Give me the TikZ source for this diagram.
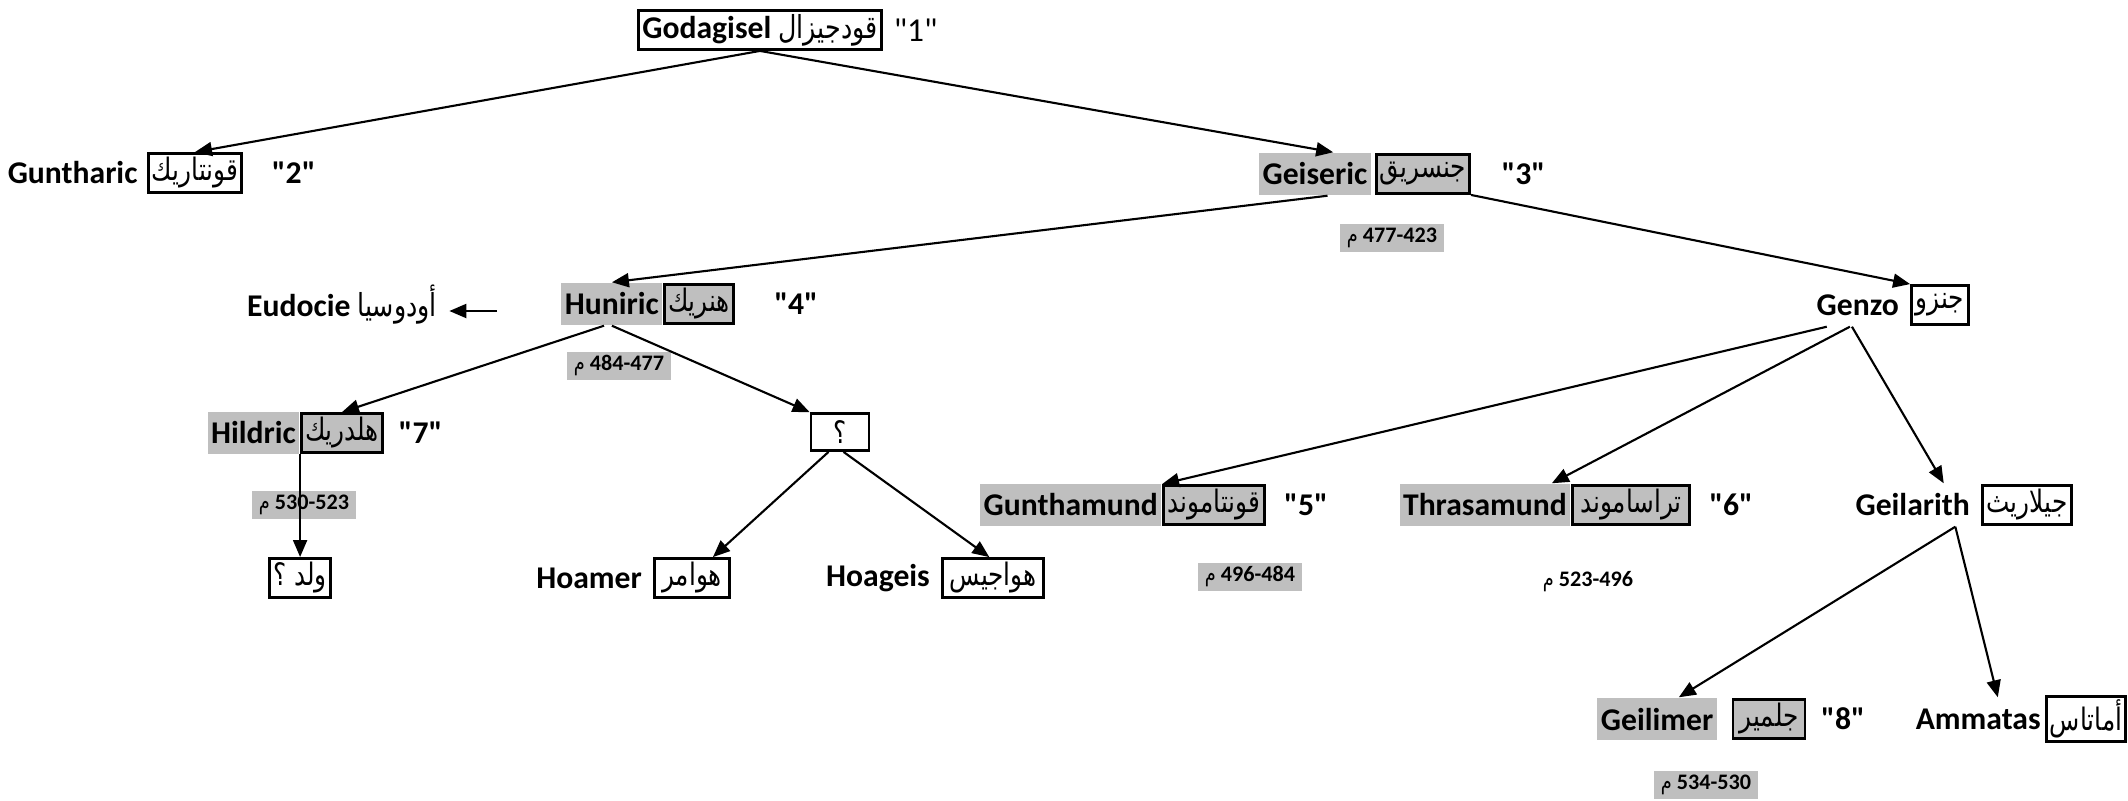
\documentclass[tikz,border=0pt]{standalone}
\usepackage{fontspec}
\setmainfont{Carlito}[Ligatures=TeXOff]
\newfontfamily\arabicfont[Script=Arabic, FakeStretch=0.8]{DejaVu Sans}
\TeXXeTstate=1
\usepackage{xcolor}
\usepackage{tikz}
\usetikzlibrary{arrows.meta,positioning}

\newcommand{\artxt}[1]{{\arabicfont\mdseries\beginR #1\endR}}

\begin{document}
\begin{tikzpicture}[x=0.01cm, y=-0.01cm,
    every node/.style={font=\bfseries\fontsize{9}{11}\selectfont},
    latin/.style={inner xsep=1pt, inner ysep=0pt, minimum height=0.42cm},
    latgrey/.style={latin, fill=reigngrey},
    arbox/.style={draw, line width=0.8pt, inner sep=1pt, minimum height=0.39cm, font=\fontsize{8.8}{10}\selectfont},
    arboxgrey/.style={arbox, fill=reigngrey},
    tag/.style={inner sep=1pt},
    reign/.style={fill=reigngrey, inner xsep=2pt, inner ysep=1pt, minimum height=0.28cm, font=\bfseries\fontsize{6.3}{8}\selectfont},
    link/.style={-{Triangle[length=0.17cm, width=0.14cm]}, line width=0.6pt}]
    % Define colors
    \colorlet{reigngrey}{black!25}
    \useasboundingbox (0,0) rectangle (2128,800);

    % Godagisel at the top
    \node[draw, line width=0.8pt, inner sep=1pt, minimum height=0.39cm, minimum width=2.39cm] (godagisel) at (760,30) {Godagisel \artxt{قودجيزال}};
    \node[tag, font=\fontsize{9.5}{11}\selectfont, right=2pt of godagisel] (num1) {"1"};

    % Second row
    \node[arbox, minimum width=0.93cm] (guntharicar) at (195,173) {\artxt{قونتاريك}};
    \node[latin, left=1.5pt of guntharicar] (guntharic) {Guntharic};
    \node[tag, right=7pt of guntharicar] (num2) {"2"};

    \node[arboxgrey, minimum width=0.89cm] (geisericar) at (1423,174) {\artxt{جنسريق}};
    \node[latgrey, left=1pt of geisericar] (geiseric) {Geiseric};
    \node[tag, right=7.5pt of geisericar] (num3) {"3"};
    \node[reign] (geisericreign) at (1392,238) {{\arabicfont\mdseries م} 477-423};

    % Third row
    \node[arboxgrey, minimum width=0.68cm] (huniricar) at (699,304) {\artxt{هنريك}};
    \node[latgrey, left=0pt of huniricar] (huniric) {Huniric};
    \node[tag, right=10pt of huniricar] (num4) {"4"};
    \node[reign] (huniricreign) at (619,366) {{\arabicfont\mdseries م} 484-477};
    \node (eudocie) at (342,305) {Eudocie \artxt{أودوسيا}};
    \coordinate (eudociefrom) at (497,311);

    \node[arbox, minimum width=0.57cm] (genzoar) at (1940,305) {\artxt{جنزو}};
    \node[latin, left=2pt of genzoar] (genzo) {Genzo};

    % Fourth row
    \node[arboxgrey, minimum width=0.75cm] (hildricar) at (342,433) {\artxt{هلدريك}};
    \node[latgrey, left=0pt of hildricar] (hildric) {Hildric};
    \node[tag, right=3pt of hildricar] (num7) {"7"};
    \node[reign] (hildricreign) at (304,505) {{\arabicfont\mdseries م} 530-523};
    \node[arbox, minimum width=0.55cm, anchor=north] (walad) at (hildricar.south west |- 0,557) {\artxt{ولد ؟}};

    \node[arbox, minimum width=0.58cm, minimum height=0.37cm] (unknown) at (840,432) {\artxt{؟}};

    % Fifth row
    \node[arbox, minimum width=0.75cm] (hoamerar) at (692,578) {\artxt{هوامر}};
    \node[latin, left=2pt of hoamerar] (hoamer) {Hoamer};
    \node[arbox, minimum width=1.01cm] (hoageisar) at (993,578) {\artxt{هواجيس}};
    \node[latin, left=2pt of hoageisar] (hoageis) {Hoageis};

    \node[arboxgrey, minimum width=1.01cm] (gunthamundar) at (1214,505) {\artxt{قونتاموند}};
    \node[latgrey, left=0pt of gunthamundar] (gunthamund) {Gunthamund};
    \node[tag, right=4pt of gunthamundar] (num5) {"5"};
    \node[reign] (gunthamundreign) at (1250,577) {{\arabicfont\mdseries م} 496-484};

    \node[arboxgrey, minimum width=1.17cm] (thrasamundar) at (1631,505) {\artxt{تراساموند}};
    \node[latgrey, left=0pt of thrasamundar] (thrasamund) {Thrasamund};
    \node[tag, right=4pt of thrasamundar] (num6) {"6"};
    \node[reign, fill=none] (thrasamundreign) at (1588,582) {{\arabicfont\mdseries م} 523-496};

    \node[arbox, minimum width=0.89cm] (geilarithar) at (2027,505) {\artxt{جيلاريث}};
    \node[latin, left=2pt of geilarithar] (geilarith) {Geilarith};

    % Sixth row
    \node[arboxgrey, minimum width=0.72cm] (geilimerar) at (1769,719) {\artxt{جلمير}};
    \node[latgrey, left=4pt of geilimerar] (geilimer) {Geilimer};
    \node[tag, right=3pt of geilimerar] (num8) {"8"};
    \node[reign] (geilimerreign) at (1706,785) {{\arabicfont\mdseries م} 534-530};

    \node[arbox, minimum width=0.77cm] (ammatasar) at (2086,719) {\artxt{أماتاس}};
    \node[latin, left=0pt of ammatasar] (ammatas) {Ammatas};

    % Family links
    \draw[link] (godagisel.south) -- (guntharicar.north);
    \draw[link] (godagisel.south) -- (geiseric.50);
    \draw[link] (geiseric.-60) -- (huniric.north);
    \draw[link] (geisericar.south east) -- (genzoar.north west);
    \draw[link] (eudociefrom) -- (eudociefrom -| eudocie.east);
    \draw[link] (huniric.250) -- (hildricar.north);
    \draw[link] (huniric.south) -- (unknown.north west);
    \draw[link] (hildricar.south west) -- (walad.north);
    \draw[link] (unknown.240) -- (hoamerar.45);
    \draw[link] (unknown.-80) -- (hoageisar.100);
    \draw[link] (genzo.215) -- (gunthamundar.north west);
    \draw[link] (genzo.250) -- (thrasamund.18);
    \draw[link] (genzo.255) -- (geilarith.35);
    \draw[link] (geilarith.-27) -- (geilimer.45);
    \draw[link] (geilarith.-27) -- (ammatas.48);
\end{tikzpicture}
\end{document}
